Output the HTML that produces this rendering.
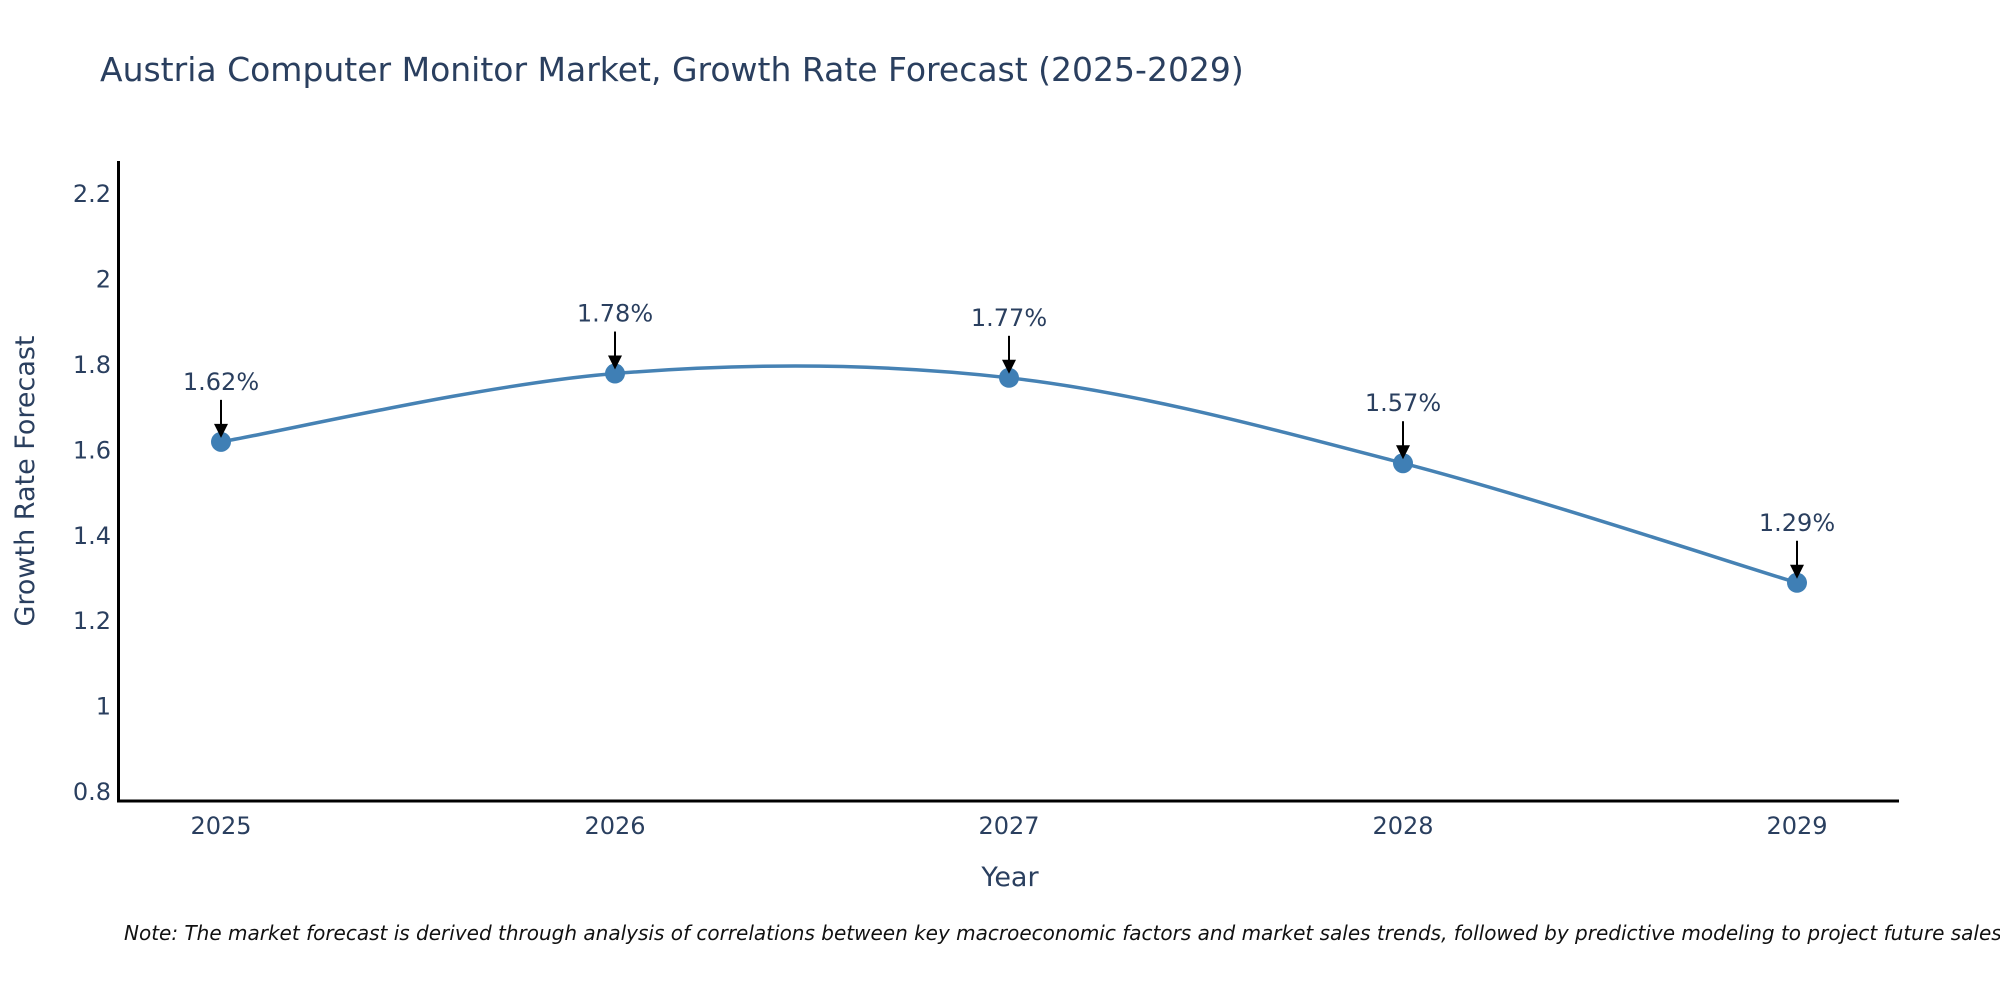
<!DOCTYPE html>
<html><head><meta charset="utf-8"><style>
html,body{margin:0;padding:0;background:#fff;}
svg{display:block;font-family:"DejaVu Sans","Liberation Sans",sans-serif;}
</style></head><body>
<svg id="chart" width="2000" height="1000" viewBox="0 0 2000 1000">
<text x="100" y="81" font-size="33" fill="#2a3f5f">Austria Computer Monitor Market, Growth Rate Forecast (2025-2029)</text>
<g id="yticks"></g>
<g id="xticks"></g>
<line x1="118.5" y1="161" x2="118.5" y2="802" stroke="#000" stroke-width="3"/>
<line x1="117" y1="801" x2="1899" y2="801" stroke="#000" stroke-width="3"/>
<text transform="translate(34,481) rotate(-90)" text-anchor="middle" font-size="27" fill="#2a3f5f">Growth Rate Forecast</text>
<text x="1010" y="886" text-anchor="middle" font-size="27" fill="#2a3f5f">Year</text>
<g id="series"></g>
<g id="annots"></g>
<text x="124" y="940" font-size="20" font-style="italic" fill="#111">Note: The market forecast is derived through analysis of correlations between key macroeconomic factors and market sales trends, followed by predictive modeling to project future sales.</text>
</svg>
<script>
const years = [2025, 2026, 2027, 2028, 2029];
const growth = [1.62, 1.78, 1.77, 1.57, 1.29];
const labels = ["1.62%", "1.78%", "1.77%", "1.57%", "1.29%"];
const yTicks = [0.8, 1, 1.2, 1.4, 1.6, 1.8, 2, 2.2];
const yTickLabels = ["0.8", "1", "1.2", "1.4", "1.6", "1.8", "2", "2.2"];

const NS = "http://www.w3.org/2000/svg";
function xScale(yr){ return 221 + (yr - 2025) * 394; }
function yScale(v){ return 792 - (v - 0.8) / 0.2 * 85.4; }
function mk(tag, attrs, parent){ const e = document.createElementNS(NS, tag); for (const k in attrs) e.setAttribute(k, attrs[k]); parent.appendChild(e); return e; }

const yt = document.getElementById('yticks');
yTicks.forEach((t, i) => {
  const e = mk('text', {x: 111, y: yScale(t) + 8, 'text-anchor': 'end', 'font-size': 24, fill: '#2a3f5f'}, yt);
  e.textContent = yTickLabels[i];
  
  
});
const xt = document.getElementById('xticks');
years.forEach(yr => {
  const e = mk('text', {x: xScale(yr), y: 834, 'text-anchor': 'middle', 'font-size': 24, fill: '#2a3f5f'}, xt);
  e.textContent = String(yr);
  
  
});

const pts = years.map((yr, i) => [xScale(yr), yScale(growth[i])]);
let d = 'M' + pts[0][0] + ',' + pts[0][1];
for (let i = 0; i < pts.length - 1; i++) {
  const p0 = pts[Math.max(0, i - 1)], p1 = pts[i], p2 = pts[i + 1], p3 = pts[Math.min(pts.length - 1, i + 2)];
  const c1 = [p1[0] + (p2[0] - p0[0]) / 6, p1[1] + (p2[1] - p0[1]) / 6];
  const c2 = [p2[0] - (p3[0] - p1[0]) / 6, p2[1] - (p3[1] - p1[1]) / 6];
  d += ' C' + c1.join(',') + ' ' + c2.join(',') + ' ' + p2.join(',');
}
const s = document.getElementById('series');
const path = mk('path', {d: d, fill: 'none', stroke: '#4682b4', 'stroke-width': 3.5}, s);


pts.forEach(p => {
  const c = mk('circle', {cx: p[0], cy: p[1], r: 10, fill: '#3f7fb5'}, s);
  
  
});

const a = document.getElementById('annots');
pts.forEach((p, i) => {
  const g = mk('g', {}, a);
  
  
  mk('line', {x1: p[0], y1: p[1] - 42, x2: p[0], y2: p[1] - 16, stroke: '#000', 'stroke-width': 2}, g);
  mk('path', {d: 'M' + (p[0] - 7) + ',' + (p[1] - 18) + ' L' + (p[0] + 7) + ',' + (p[1] - 18) + ' L' + p[0] + ',' + (p[1] - 4) + ' Z', fill: '#000'}, g);
  const t = mk('text', {x: p[0], y: p[1] - 52, 'text-anchor': 'middle', 'font-size': 24, fill: '#2a3f5f'}, g);
  t.textContent = labels[i];
});
</script>
</body></html>
